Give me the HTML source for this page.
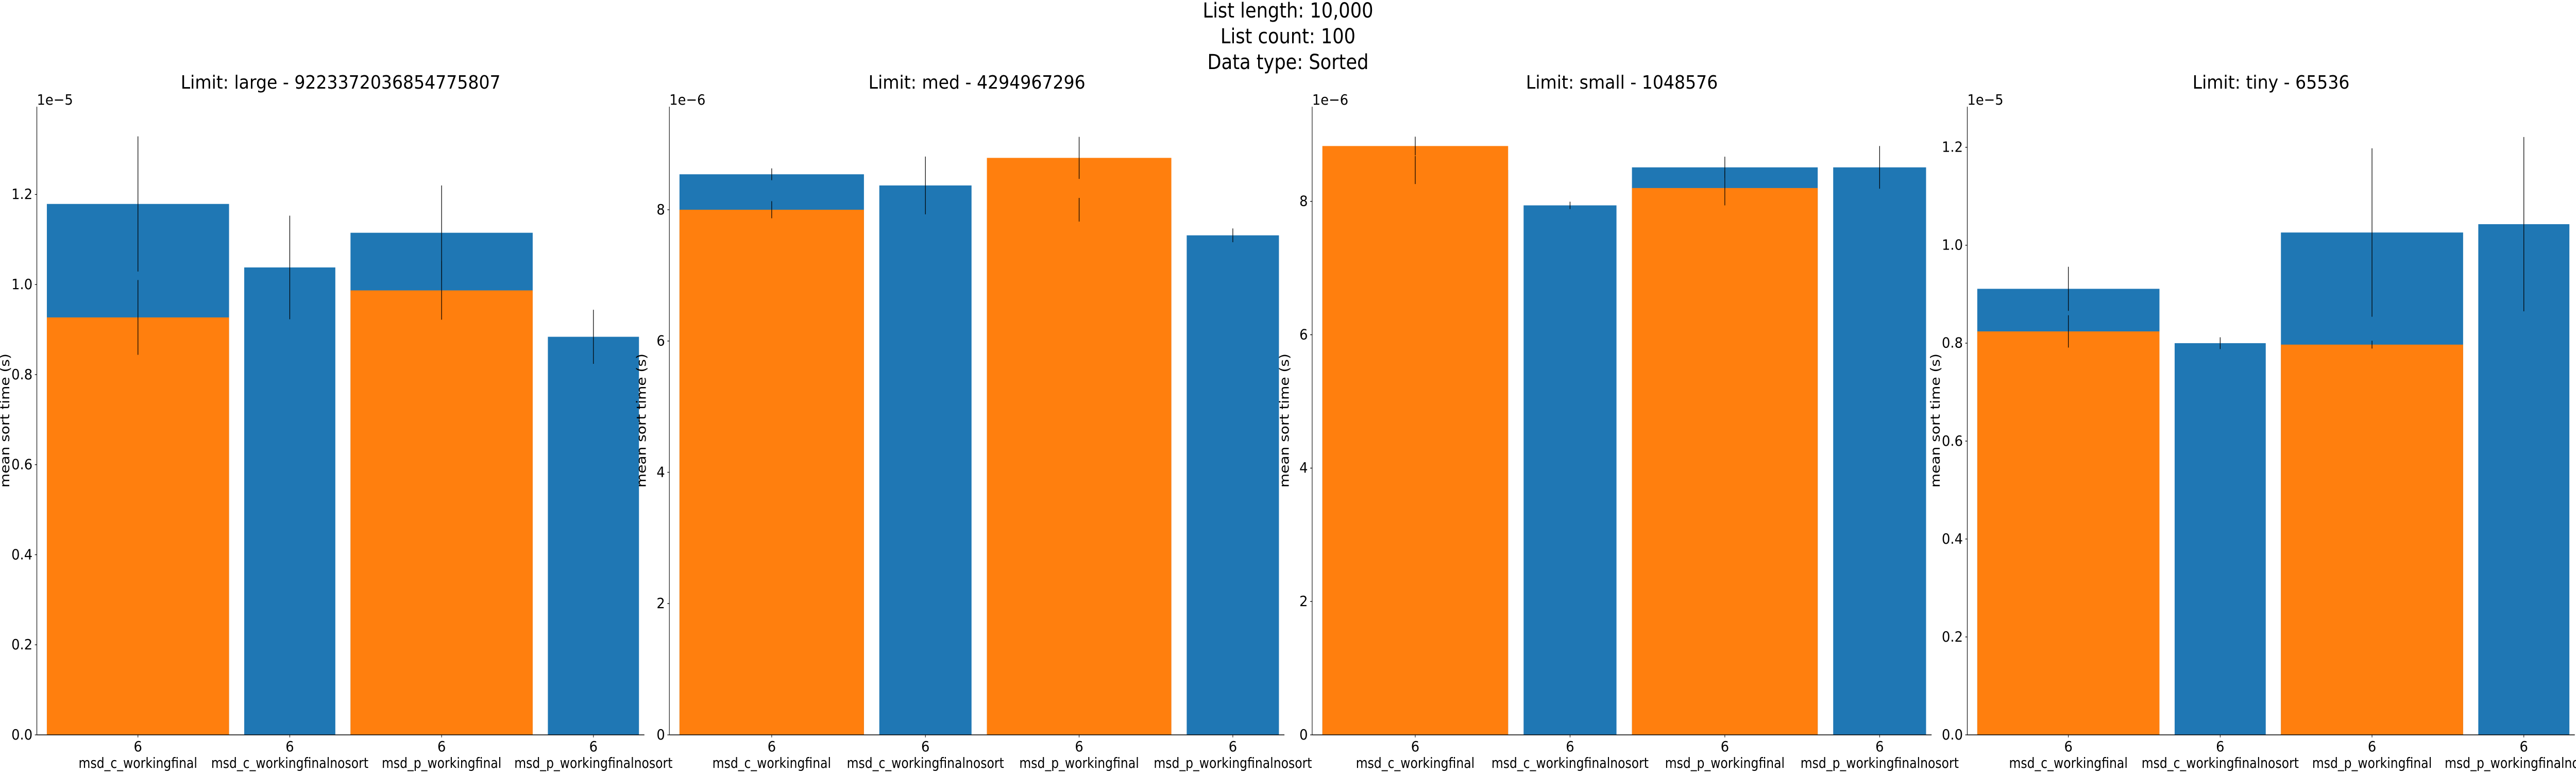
<!DOCTYPE html>
<html><head><meta charset="utf-8">
<style>
html,body{margin:0;padding:0;background:#fff;overflow:hidden;width:100vw;height:100vh;}
svg{display:block;width:100vw;height:100vh;font-family:"DejaVu Sans","Liberation Sans",sans-serif;}
</style></head>
<body>
<svg id="chart" viewBox="0 0 6500 1500" preserveAspectRatio="none" xmlns="http://www.w3.org/2000/svg">
<g font-size="40" text-anchor="middle" fill="#000">
<text class="fixw" data-hs="0.88" x="3250" y="34">List length: 10,000</text>
<text class="fixw" data-hs="0.88" x="3250" y="84">List count: 100</text>
<text class="fixw" data-hs="0.88" x="3250" y="134">Data type: Sorted</text>
</g>
</svg>
<script>
// ---- data ----
const categories = ["msd_c_workingfinal","msd_c_workingfinalnosort","msd_p_workingfinal","msd_p_workingfinalnosort"];
const tickTop = ["6","6","6","6"];
const panelTitles = ["Limit: large -  9223372036854775807","Limit: med -  4294967296","Limit: small -  1048576","Limit: tiny -  65536"];
const panelScale = ["1e\u22125","1e\u22126","1e\u22126","1e\u22125"];
const panelYMax = [1.395, 9.57, 9.42, 1.283];
const panelTicks = [[0,0.2,0.4,0.6,0.8,1.0,1.2],[0,2,4,6,8],[0,2,4,6,8],[0,0.2,0.4,0.6,0.8,1.0,1.2]];
const panelTickLabels = [["0.0","0.2","0.4","0.6","0.8","1.0","1.2"],["0","2","4","6","8"],["0","2","4","6","8"],["0.0","0.2","0.4","0.6","0.8","1.0","1.2"]];
const blueLarge = [1.179, 1.038, 1.115, 0.884];
const blueLargeErr = [0.15, 0.115, 0.105, 0.06];
const orangeLarge = [0.927, null, 0.987, null];
const orangeLargeErr = [0.083, null, 0.065, null];
const blueMed = [8.54, 8.37, 8.0, 7.61];
const blueMedErr = [0.09, 0.44, 0.18, 0.105];
const orangeMed = [8.0, null, 8.79, null];
const orangeMedErr = [0.13, null, 0.32, null];
const blueSmall = [8.47, 7.94, 8.51, 8.51];
const blueSmallErr = [0.21, 0.055, 0.16, 0.32];
const orangeSmall = [8.83, null, 8.2, null];
const orangeSmallErr = [0.14, null, 0.26, null];
const blueTiny = [0.911, 0.80, 1.026, 1.043];
const blueTinyErr = [0.045, 0.012, 0.172, 0.178];
const orangeTiny = [0.824, null, 0.797, null];
const orangeTinyErr = [0.033, null, 0.008, null];

const blueSeries = [blueLarge, blueMed, blueSmall, blueTiny];
const blueErrs = [blueLargeErr, blueMedErr, blueSmallErr, blueTinyErr];
const orangeSeries = [orangeLarge, orangeMed, orangeSmall, orangeTiny];
const orangeErrs = [orangeLargeErr, orangeMedErr, orangeSmallErr, orangeTinyErr];

// ---- layout ----
const NS = "http://www.w3.org/2000/svg";
const svg = document.getElementById("chart");
const axLeft = [93, 1689, 3311, 4964];
const axWidth = [1533, 1552, 1563, 1533];
const ylabelOff = [79, 69, 69, 79];
const Y0 = 1426, YTOP = 207;
const BLUE = "#1f77b4", ORANGE = "#ff7f0e";
const barWidths = [1.2, 0.6, 1.2, 0.6];

function mk(tag, attrs, parent) {
  const e = document.createElementNS(NS, tag);
  for (const k in attrs) e.setAttribute(k, attrs[k]);
  parent.appendChild(e);
  return e;
}
function txt(attrs, parent, content, hs, rot) {
  const e = mk("text", attrs, parent);
  e.textContent = content;
  e.setAttribute("class", "fixw");
  e.setAttribute("data-hs", hs);
  if (rot) e.setAttribute("data-rot", rot);
  return e;
}

for (let p = 0; p < 4; p++) {
  const L = axLeft[p], W = axWidth[p];
  const x = v => L + 0.1664 * W + v * 0.2499 * W;
  const y = v => Y0 - v / panelYMax[p] * (Y0 - YTOP);
  const unit = 0.2499 * W;
  const g = mk("g", {}, svg);
  
  

  const t = txt({x: L + W / 2, y: 172, "font-size": 36, "text-anchor": "middle"}, g, panelTitles[p], 0.92);
  
  

  const off = txt({x: L, y: 203, "font-size": 28}, g, panelScale[p], 0.92);
  
  

  const yl = txt({x: L - ylabelOff[p], y: 816, "font-size": 28, "text-anchor": "middle", "dominant-baseline": "central"}, g, "mean sort time (s)", 0.88, "-90");
  
  

  blueSeries[p].forEach((v, i) => {
    const w = barWidths[i] * unit;
    const r = mk("rect", {x: x(i) - w / 2, y: y(v), width: w, height: Y0 - y(v), fill: BLUE}, g);
    
    
  });
  orangeSeries[p].forEach((v, i) => {
    if (v === null) return;
    const w = barWidths[i] * unit;
    const r = mk("rect", {x: x(i) - w / 2, y: y(v), width: w, height: Y0 - y(v), fill: ORANGE}, g);
    
    
  });
  blueSeries[p].forEach((v, i) => {
    const e = blueErrs[p][i];
    const l = mk("line", {x1: x(i), x2: x(i), y1: y(v - e), y2: y(v + e), stroke: "#000", "stroke-width": 1.6}, g);
    
    
  });
  orangeSeries[p].forEach((v, i) => {
    if (v === null) return;
    const e = orangeErrs[p][i];
    const l = mk("line", {x1: x(i), x2: x(i), y1: y(v - e), y2: y(v + e), stroke: "#000", "stroke-width": 1.6}, g);
    
    
  });

  const sl = mk("line", {x1: L, x2: L, y1: YTOP, y2: Y0, stroke: "#000", "stroke-width": 1.4}, g);
  
  
  const sb = mk("line", {x1: L, x2: L + W, y1: Y0, y2: Y0, stroke: "#000", "stroke-width": 1.4}, g);
  
  

  panelTicks[p].forEach((v, k) => {
    mk("line", {x1: L - 5, x2: L, y1: y(v), y2: y(v), stroke: "#000", "stroke-width": 1.3}, g);
    const tl = txt({x: L - 11, y: y(v), "font-size": 28, "text-anchor": "end", "dominant-baseline": "central"}, g, panelTickLabels[p][k], 0.92);
    
    
  });
  categories.forEach((c, i) => {
    mk("line", {x1: x(i), x2: x(i), y1: Y0, y2: Y0 + 5, stroke: "#000", "stroke-width": 1.3}, g);
    const a = txt({x: x(i), y: 1458, "font-size": 28, "text-anchor": "middle"}, g, tickTop[i], 0.92);
    
    
    const b = txt({x: x(i), y: 1490, "font-size": 28, "text-anchor": "middle"}, g, c, 0.84);
    
    
  });
}

// compensate viewport stretch, then apply per-element horizontal glyph factor
(function () {
  const sx = window.innerWidth / 6500, sy = window.innerHeight / 1500;
  const k = (sx > 0 && sy > 0) ? sy / sx : 1;
  document.querySelectorAll("text.fixw").forEach(e => {
    const x = parseFloat(e.getAttribute("x")), y = parseFloat(e.getAttribute("y"));
    const hs = parseFloat(e.getAttribute("data-hs") || "1");
    const rot = e.getAttribute("data-rot");
    e.setAttribute("transform", `translate(${x} ${y}) scale(${k * hs} 1)` + (rot ? ` rotate(${rot})` : "") + ` translate(${-x} ${-y})`);
  });
})();
</script>
</body></html>
